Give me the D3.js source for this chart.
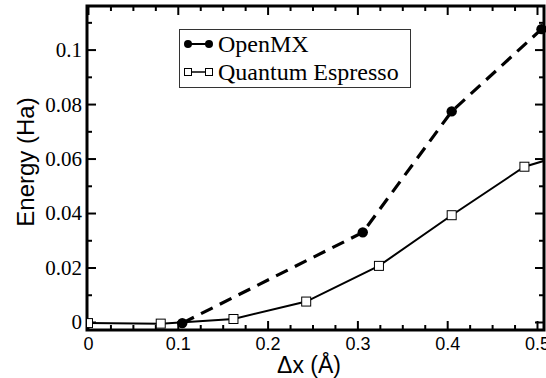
<!DOCTYPE html>
<html><head><meta charset="utf-8">
<script src="https://cdn.jsdelivr.net/npm/d3@7"></script>
<style>body{margin:0;background:#fff}svg{display:block}</style>
</head><body>
<svg id="c" width="546" height="378"></svg>
<script>
const openmxX = [0.105, 0.306, 0.405, 0.505];
const openmxY = [-0.0004, 0.0329, 0.0773, 0.1075];
const qeX = [0, 0.081, 0.162, 0.243, 0.324, 0.405, 0.486, 0.567];
const qeY = [-0.0004, -0.0006, 0.0011, 0.0075, 0.0206, 0.0392, 0.0570, 0.0650];
const xMajor = [0, 0.1, 0.2, 0.3, 0.4, 0.5];
const xMinor = [0.025,0.05,0.075,0.125,0.15,0.175,0.225,0.25,0.275,0.325,0.35,0.375,0.425,0.45,0.475];
const yMajor = [0, 0.02, 0.04, 0.06, 0.08, 0.1];
const yMinor = [0.01, 0.03, 0.05, 0.07, 0.09, 0.11];
const yLabels = ["0", "0.02", "0.04", "0.06", "0.08", "0.1"];
const xLabels = ["0", "0.1", "0.2", "0.3", "0.4", "0.5"];
const seriesNames = ["OpenMX", "Quantum Espresso"];

const L = 87, R = 544, T = 6, B = 330;
const x = d3.scaleLinear().domain([-0.0011, 0.5078]).range([L, R]);
const y = d3.scaleLinear().domain([-0.00294, 0.116]).range([B, T]);
const svg = d3.select("#c");

svg.append("clipPath").attr("id","clip").append("rect")
  .attr("x",L).attr("y",T).attr("width",R-L).attr("height",B-T);

function axis(gen, tr, vals, size, labels){
  const g = svg.append("g").attr("transform", tr)
    .call(gen.tickValues(vals).tickSizeInner(size).tickSizeOuter(0)
      .tickFormat(labels ? (d,i)=>labels[i] : ()=> ""));
  g.select(".domain").remove();
  g.selectAll(".tick line").attr("stroke","#000").attr("stroke-width",2);
  return g;
}
// bottom
const gb = axis(d3.axisBottom(x), `translate(0,${B})`, xMajor, -9, xLabels);
gb.selectAll("text").attr("font-family","Liberation Sans, Arial, sans-serif").attr("font-size",18).attr("fill","#000").attr("dy",0).attr("y",20);
axis(d3.axisBottom(x), `translate(0,${B})`, xMinor, -5);
// top
axis(d3.axisTop(x), `translate(0,${T})`, xMajor, -9);
axis(d3.axisTop(x), `translate(0,${T})`, xMinor, -5);
// left
const gl = axis(d3.axisLeft(y), `translate(${L},0)`, yMajor, -9, yLabels);
gl.selectAll("text").attr("font-family","Liberation Serif, Times New Roman, serif").attr("font-size",21).attr("fill","#000").attr("x",-5).attr("dy","0.33em");
axis(d3.axisLeft(y), `translate(${L},0)`, yMinor, -5);
// right
axis(d3.axisRight(y), `translate(${R},0)`, yMajor, -9);
axis(d3.axisRight(y), `translate(${R},0)`, yMinor, -5);

// frame
svg.append("rect").attr("x",L).attr("y",T).attr("width",R-L).attr("height",B-T)
  .attr("fill","none").attr("stroke","#000").attr("stroke-width",3);

const qe = qeX.map((v,i)=>[v,qeY[i]]);
const om = openmxX.map((v,i)=>[v,openmxY[i]]);
const line = d3.line().x(d=>x(d[0])).y(d=>y(d[1]));
const plot = svg.append("g").attr("clip-path","url(#clip)");
plot.append("path").attr("d",line(qe)).attr("fill","none").attr("stroke","#000").attr("stroke-width",2);
plot.append("path").attr("d",line(om)).attr("fill","none").attr("stroke","#000").attr("stroke-width",3.2).attr("stroke-dasharray","13,8");
plot.selectAll("rect.q").data(qe.filter(d=>d[0]<=0.508)).enter().append("rect")
  .attr("x",d=>x(d[0])-4.5).attr("y",d=>y(d[1])-4.5).attr("width",9).attr("height",9)
  .attr("fill","#fff").attr("stroke","#000").attr("stroke-width",1);
svg.selectAll("circle.o").data(om).enter().append("circle")
  .attr("cx",d=>x(d[0])).attr("cy",d=>y(d[1])).attr("r",5.2).attr("fill","#000");

// legend
const lg = svg.append("g");
lg.append("rect").attr("x",179.5).attr("y",29.5).attr("width",231).attr("height",58)
  .attr("fill","#fff").attr("stroke","#333").attr("stroke-width",1);
lg.append("line").attr("x1",188).attr("x2",209).attr("y1",44).attr("y2",44).attr("stroke","#000").attr("stroke-width",2);
[188,209].forEach(cx=>lg.append("circle").attr("cx",cx).attr("cy",44).attr("r",4).attr("fill","#000"));
lg.append("line").attr("x1",188).attr("x2",209).attr("y1",72).attr("y2",72).attr("stroke","#000").attr("stroke-width",1.5);
[188,209].forEach(cx=>lg.append("rect").attr("x",cx-3.5).attr("y",68.5).attr("width",7).attr("height",7).attr("fill","#fff").attr("stroke","#000").attr("stroke-width",1));
lg.selectAll("text").data(seriesNames).enter().append("text")
  .attr("x",218).attr("y",(d,i)=>52+i*28).text(d=>d)
  .attr("font-family","Liberation Serif, Times New Roman, serif").attr("font-size",24).attr("fill","#000");

// axis titles
svg.append("text").attr("transform","translate(34,162) rotate(-90)").attr("text-anchor","middle")
  .attr("font-family","Liberation Sans, Arial, sans-serif").attr("font-size",24).text("Energy (Ha)");
svg.append("text").attr("x",309).attr("y",373).attr("text-anchor","middle")
  .attr("font-family","Liberation Sans, Arial, sans-serif").attr("font-size",23).text("Δx (Å)");
</script>
</body></html>
